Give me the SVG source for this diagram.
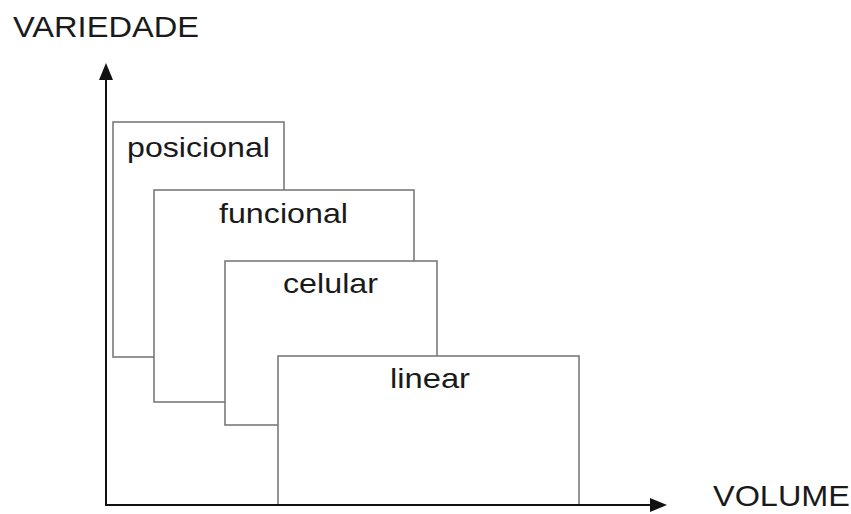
<svg xmlns="http://www.w3.org/2000/svg" width="851" height="514" viewBox="0 0 851 514">
  <style>
    .box { fill: #ffffff; stroke: #7a7a7a; stroke-width: 1.6; }
    .axis { stroke: #111111; stroke-width: 2; fill: none; }
    .head { fill: #111111; }
    text { font-family: "Liberation Sans", Arial, sans-serif; fill: #1a1a1a; }
    .lbl { font-size: 28px; }
    .ax { font-size: 30px; }
  </style>

  <!-- axes -->
  <g id="connectors">
    <line class="axis" x1="106" y1="506" x2="106" y2="78"/>
    <polygon class="head" points="106,63 99,80 113,80"/>
    <line class="axis" x1="105" y1="505" x2="652" y2="505"/>
    <polygon class="head" points="667,505 650,498 650,512"/>
  </g>

  <text x="13" y="37" class="ax" textLength="186" lengthAdjust="spacingAndGlyphs">VARIEDADE</text>
  <text x="713" y="506" class="ax" textLength="137" lengthAdjust="spacingAndGlyphs">VOLUME</text>

  <!-- overlapping layout types, back to front -->
  <g id="posicional">
    <rect class="box" x="113" y="122" width="171" height="235"/>
    <text x="127" y="157" class="lbl" textLength="143" lengthAdjust="spacingAndGlyphs">posicional</text>
  </g>
  <g id="funcional">
    <rect class="box" x="154" y="190" width="260" height="212"/>
    <text x="219" y="223" class="lbl" textLength="129" lengthAdjust="spacingAndGlyphs">funcional</text>
  </g>
  <g id="celular">
    <rect class="box" x="225" y="261" width="212" height="164"/>
    <text x="283" y="293" class="lbl" textLength="95" lengthAdjust="spacingAndGlyphs">celular</text>
  </g>
  <g id="linear">
    <rect class="box" x="278" y="356" width="301" height="149"/>
    <text x="390" y="388" class="lbl" textLength="80" lengthAdjust="spacingAndGlyphs">linear</text>
  </g>

  <!-- redraw the baseline over the bottom edge of the front box -->
  <line class="axis" x1="105" y1="505" x2="652" y2="505"/>
</svg>
